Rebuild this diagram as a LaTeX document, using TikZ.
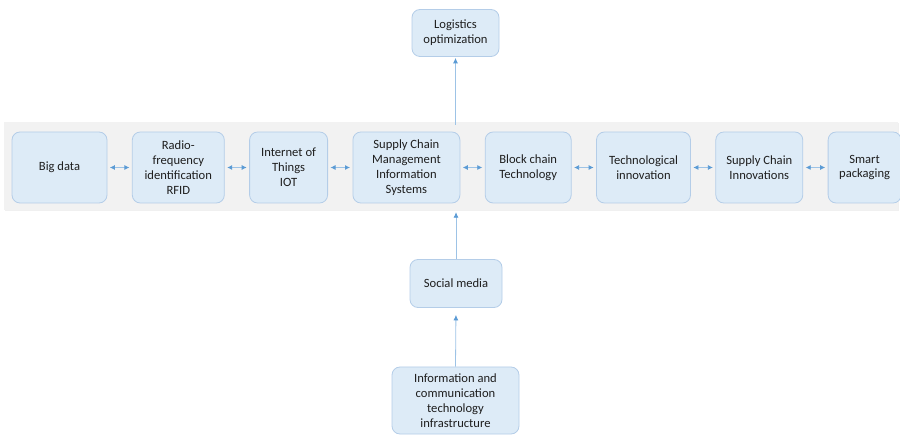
\documentclass[tikz,border=0pt]{standalone}
\usepackage{fontspec}
\setmainfont{Carlito}
\usetikzlibrary{positioning, arrows.meta, shadows}

\definecolor{boxfill}{HTML}{DDEBF7}
\definecolor{boxline}{HTML}{B4CDE8}
\definecolor{arrowcol}{HTML}{5B9BD5}
\definecolor{shaftcol}{HTML}{9DC3E6}
\definecolor{bandfill}{HTML}{F2F2F2}
\definecolor{textcol}{HTML}{1E1E1E}

\begin{document}
\begin{tikzpicture}[
    x=1pt, y=-1pt,
    node distance=24.5pt,
    every node/.style={font=\fontsize{12.6}{14.8}\selectfont, text=textcol},
    tech/.style={rectangle, rounded corners=8pt, draw=boxline, fill=boxfill, thick, align=center, minimum height=71pt, inner sep=2pt},
    band/.style={rectangle, draw=none, fill=bandfill, minimum width=894pt, minimum height=88pt,
        drop shadow={opacity=0.12, shadow xshift=1pt, shadow yshift=-1.5pt}},
    link/.style={{Latex[length=5pt,width=5pt,color=arrowcol]}-{Latex[length=5pt,width=5pt,color=arrowcol]}, shaftcol, thick, shorten <=2.5pt, shorten >=2.5pt},
    feed/.style={-{Latex[length=5.5pt,width=5pt,color=arrowcol]}, shaftcol, thick},
]
    \useasboundingbox (0,0) rectangle (900,438);

    % Band behind the row
    \node[band] (band) at (451,166) {};

    % Row of technologies
    \node[tech, minimum width=95pt] (bigdata) at (59.5,167.5) {Big data};
    \node[tech, minimum width=92pt] (rfid)  [right= of bigdata] {Radio-\\frequency\\identification\\RFID};
    \node[tech, minimum width=78pt] (iot)   [right= of rfid]    {Internet of\\Things\\IOT};
    \node[tech, minimum width=107pt] (scmis) [right= of iot]    {Supply Chain\\Management\\Information\\Systems};
    \node[tech, minimum width=86pt] (block) [right= of scmis]   {Block chain\\Technology};
    \node[tech, minimum width=94pt] (techinno) [right= of block] {Technological\\innovation};
    \node[tech, minimum width=87pt] (scinno) [right= of techinno] {Supply Chain\\Innovations};
    \node[tech, minimum width=73pt] (smart) [right= of scinno]  {Smart\\packaging};

    % Top and bottom
    \node[tech, minimum width=87pt, minimum height=47pt] (logis) at (455.5,33) {Logistics\\optimization};
    \node[tech, minimum width=92pt, minimum height=48pt] (social) at (456,283.5) {Social media};
    \node[tech, minimum width=127pt, minimum height=67pt] (ict) at (455.5,400.5) {Information and\\communication\\technology\\infrastructure};

    % Lines
    \draw[link] (bigdata) -- (rfid);
    \draw[link] (rfid) -- (iot);
    \draw[link] (iot) -- (scmis);
    \draw[link] (scmis) -- (block);
    \draw[link] (block) -- (techinno);
    \draw[link] (techinno) -- (scinno);
    \draw[link] (scinno) -- (smart);

    \draw[feed, shorten <=-3pt, shorten >=1pt] (band.north -| logis.south) -- (logis.south);
    \draw[feed, shorten >=2pt] (social.north) -- (band.south -| social.north);
    \draw[feed, shorten >=7pt] (ict.north) -- (social.south);

\end{tikzpicture}
\end{document}
